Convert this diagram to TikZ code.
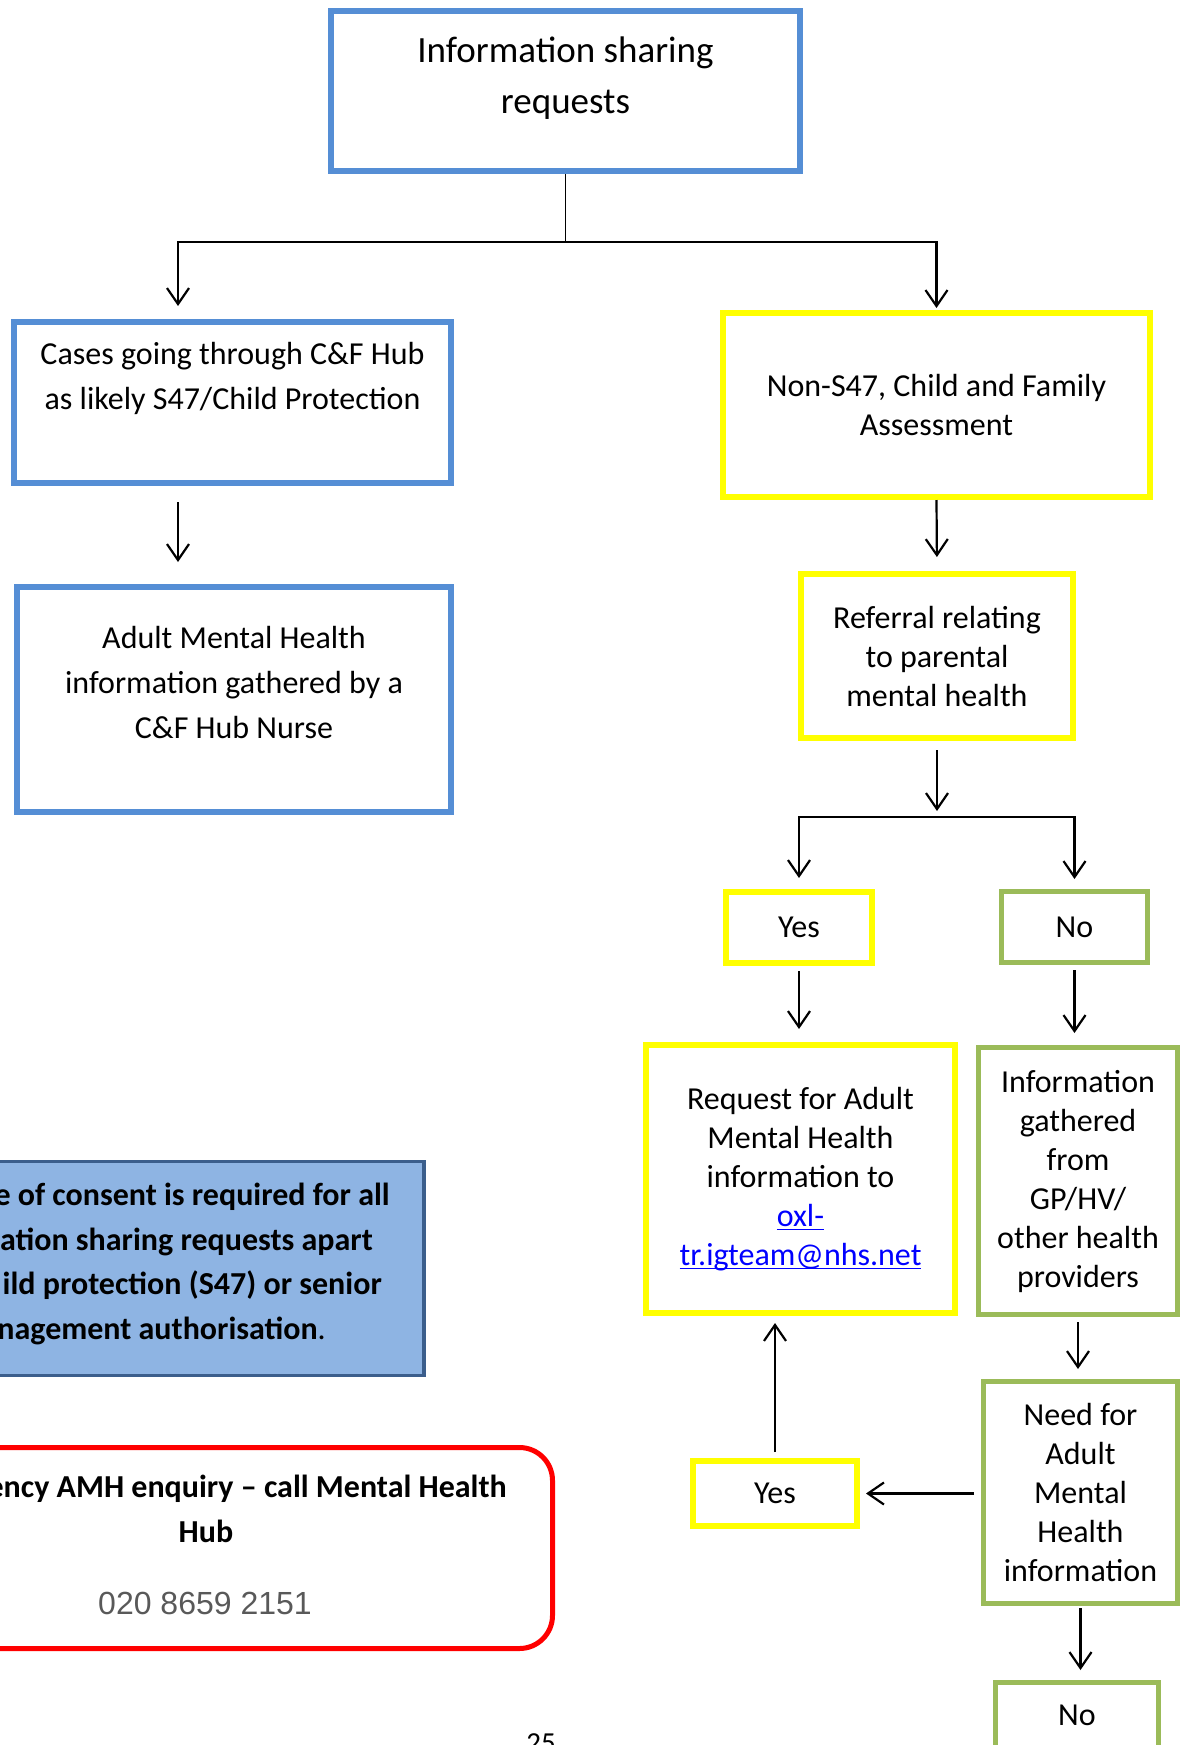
\documentclass[tikz,border=0pt]{standalone}
\usepackage{fontspec}
\setmainfont{Carlito}
\newfontfamily\phonefont{Liberation Sans}
\usetikzlibrary{positioning,arrows.meta}
\definecolor{hubblue}{HTML}{558ED5}
\definecolor{cfyellow}{HTML}{FFFF00}
\definecolor{gpgreen}{HTML}{9BBB59}
\definecolor{notefill}{HTML}{8EB4E3}
\definecolor{noteline}{HTML}{3B5E8C}
\definecolor{linkblue}{HTML}{0000FF}
\definecolor{phonegrey}{HTML}{595959}
\tikzstyle{bluebox}=[draw=hubblue, line width=6pt, inner sep=0pt]
\tikzstyle{yellowbox}=[draw=cfyellow, line width=6pt, align=center, inner sep=0pt, font=\fontsize{32}{39}\selectfont]
\tikzstyle{greenbox}=[draw=gpgreen, line width=5pt, align=center, inner sep=0pt, font=\fontsize{32}{39}\selectfont]
\tikzstyle{boxtext}=[align=center, inner sep=0pt, font=\fontsize{32}{45}\selectfont]
\tikzstyle{notetext}=[anchor=base east, inner sep=0pt, font=\fontsize{32}{45}\selectfont\bfseries]
\tikzstyle{flowline}=[line width=2.2pt]
\tikzstyle{flowarrow}=[flowline, -{Straight Barb[length=16pt,width=22pt]}]
\newcommand{\maillink}[1]{\setbox0\hbox{#1}\rlap{\rule[-4pt]{\wd0}{1.8pt}}#1}

\begin{document}
\begin{tikzpicture}[x=1pt, y=-1pt]
  \useasboundingbox (0,0) rectangle (1182,1745);
  % C&F Hub side
  \node[bluebox, minimum width=469pt, minimum height=160pt] (share) at (565.5,91) {};
  \node[boxtext, font=\fontsize{37}{51}\selectfont, below=29pt of share.north] (sharetext) {Information sharing\\requests};
  \node[bluebox, minimum width=437pt, minimum height=161pt] (hub) at (232.5,402.5) {};
  \node[boxtext, below=23.5pt of hub.north] (hubtext) {Cases going through C\&F Hub\\as likely S47/Child Protection};
  \node[bluebox, minimum width=434pt, minimum height=225pt] (adult) at (234,699.5) {};
  \node[boxtext, below=42.5pt of adult.north] (adulttext) {Adult Mental Health\\information gathered by a\\C\&F Hub Nurse};
  % non-S47 side
  \node[yellowbox, minimum width=427pt, minimum height=184pt] (nons) at (936.5,405) {Non-S47, Child and Family\\Assessment};
  \node[yellowbox, minimum width=272pt, minimum height=164pt] (ref) at (937,656) {Referral relating\\to parental\\mental health};
  \node[yellowbox, minimum width=146pt, minimum height=71pt] (yes1) at (799,927.5) {Yes};
  \node[greenbox, minimum width=146pt, minimum height=71pt] (no1) at (1074.5,927) {No};
  \node[yellowbox, minimum width=309pt, minimum height=268pt] (request) at (800.5,1179)
    {Request for Adult\\Mental Health\\information to\\\textcolor{linkblue}{\maillink{oxl-}}\\\textcolor{linkblue}{\maillink{tr.igteam@nhs.net}}};
  \node[greenbox, minimum width=199pt, minimum height=267pt] (info) at (1078,1181) {Information\\gathered\\from\\GP/HV/\\other health\\providers};
  \node[greenbox, minimum width=194pt, minimum height=222pt] (need) at (1080.5,1492.5) {Need for\\Adult\\Mental\\Health\\information};
  \node[yellowbox, minimum width=164pt, minimum height=65pt] (yes2) at (775,1493.5) {Yes};
  \node[greenbox, minimum width=163pt, minimum height=65pt] (no2) at (1077,1715) {No};
  % consent note
  \node[draw=noteline, fill=notefill, line width=3.5pt, minimum width=624pt, minimum height=214pt] (note) at (112,1268.5) {};
  \node[notetext] (note1) at (390,1205) {e of consent is required for all};
  \node[notetext] (note2) at (373,1250) {ation sharing requests apart};
  \node[notetext] (note3) at (382,1294) {ild protection (S47) or senior};
  \node[notetext] (note4) at (326,1339) {nagement authorisation\mdseries.};
  % urgent enquiry
  \node[draw=red, line width=5pt, rounded corners=33pt, minimum width=752pt, minimum height=201pt] (urgent) at (176.5,1548) {};
  \node[notetext] (urgent1) at (507,1497) {ency AMH enquiry -- call Mental Health};
  \node[notetext, anchor=base] (urgent2) at (206,1542) {Hub};
  \node[anchor=base, inner sep=0pt, text=phonegrey, font=\fontsize{32}{38}\phonefont] (phone) at (205,1614) {020 8659 2151};
  \node[anchor=base, inner sep=0pt, font=\fontsize{29}{35}\selectfont] (page) at (541,1752) {25};
  % connectors
  \coordinate (split) at (565.5,242);
  \coordinate (hubin) at (178,306);
  \coordinate (split2) at (937,817);
  \draw[line width=1.4pt] (share.south) -- (split);
  \draw[flowarrow] (split) -| (hubin);
  \draw[flowarrow, shorten >=2pt] (split) -| (nons.north);
  \draw[flowarrow, shorten <=16pt, shorten >=22pt] (hub.south -| hubin) -- (adult.north -| hubin);
  \draw[flowarrow, shorten >=14pt] (nons.south) -- (ref.north);
  \draw[flowarrow, shorten <=9pt, shorten >=6pt] (ref.south) -- (split2);
  \draw[flowarrow, shorten >=11pt] (split2) -| (yes1.north);
  \draw[flowarrow, shorten >=10pt] (split2) -| (no1.north);
  \draw[flowarrow, shorten <=5pt, shorten >=13pt] (yes1.south) -- (yes1.south |- request.north);
  \draw[flowarrow, shorten <=5pt, shorten >=12pt] (no1.south) -- (no1.south |- info.north);
  \draw[flowarrow, shorten <=5pt, shorten >=10pt] (info.south) -- (info.south |- need.north);
  \draw[flowarrow, shorten <=7pt, shorten >=6pt] (need.west |- yes2.east) -- (yes2.east);
  \draw[flowarrow, shorten <=6pt, shorten >=7pt] (yes2.north) -- (yes2.north |- request.south);
  \draw[flowarrow, shorten <=2pt, shorten >=10pt] (need.south) -- (need.south |- no2.north);
\end{tikzpicture}
\end{document}
